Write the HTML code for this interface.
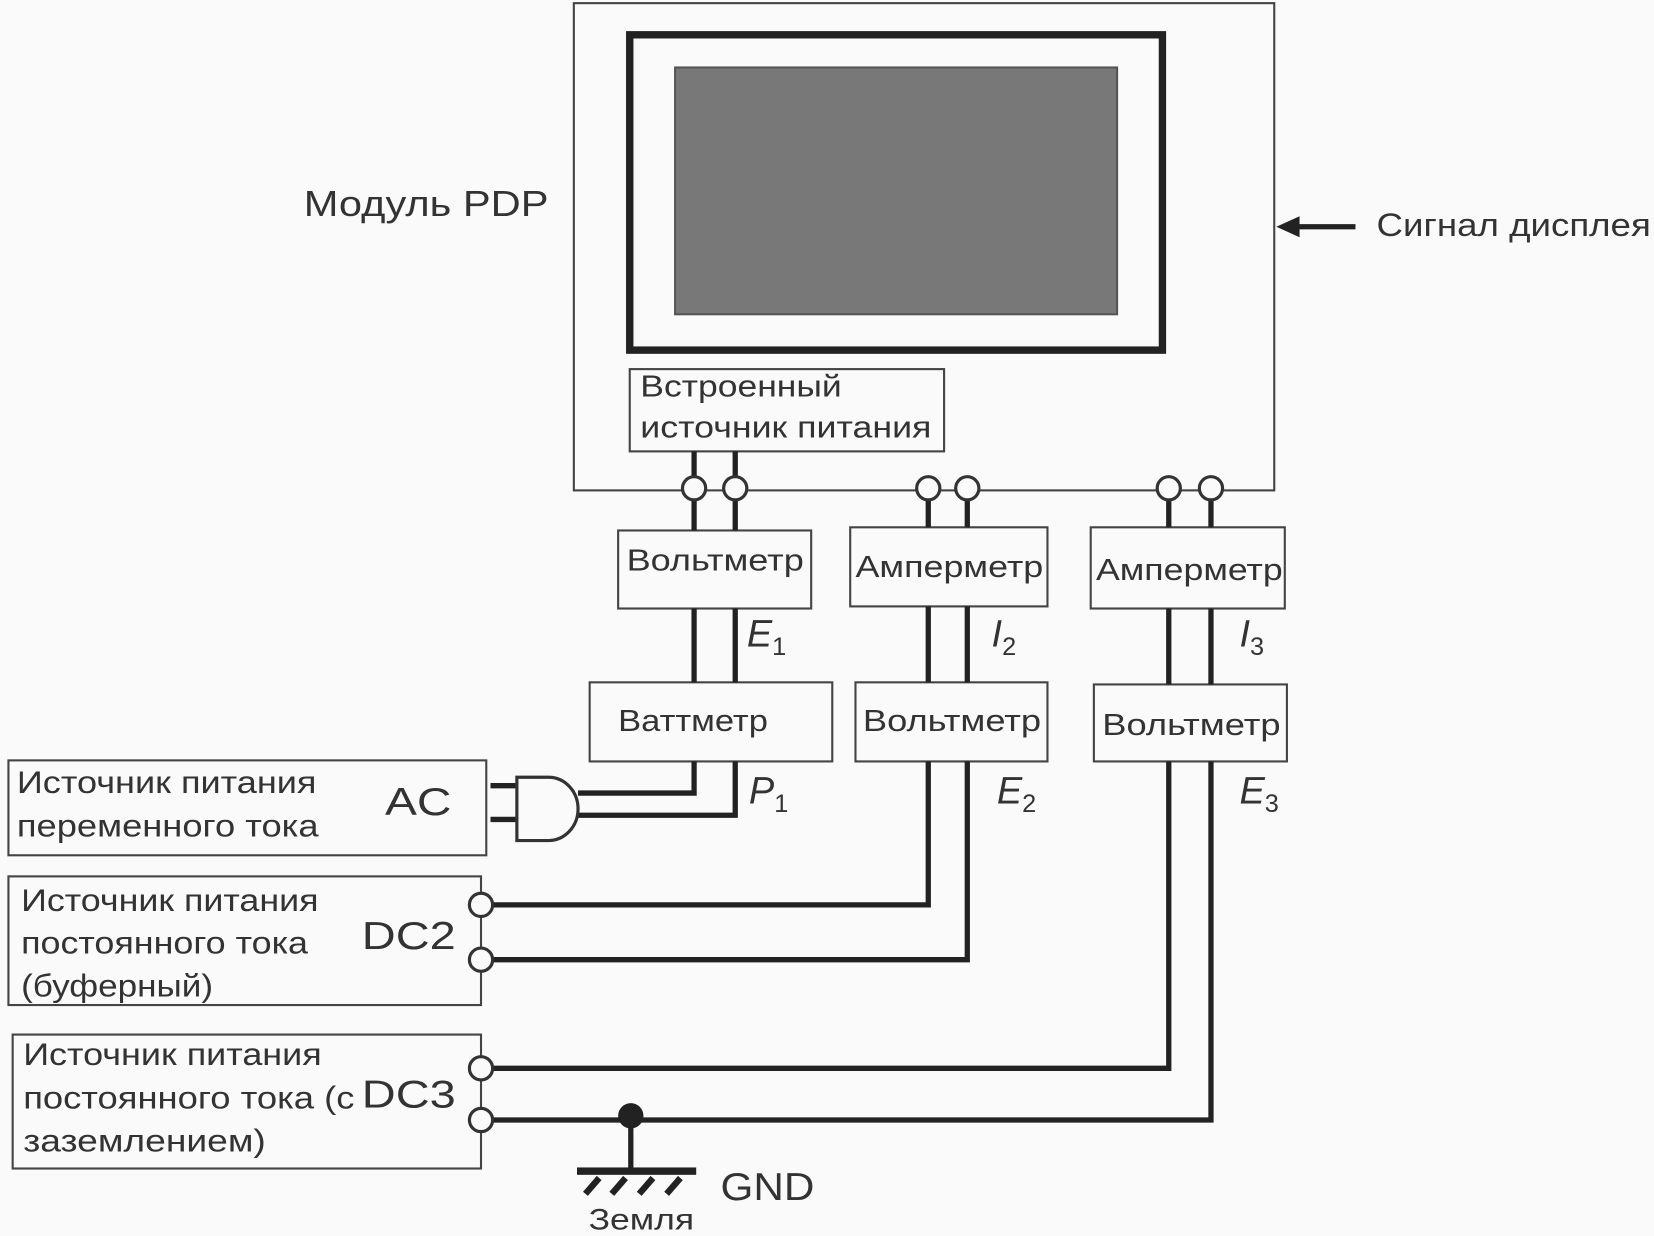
<!DOCTYPE html>
<html><head><meta charset="utf-8"><style>html,body{margin:0;padding:0;background:#fafafa}svg{display:block}</style></head><body>
<svg width="1654" height="1236" viewBox="0 0 1568 1172" preserveAspectRatio="none" xmlns="http://www.w3.org/2000/svg" font-family="Liberation Sans, sans-serif" fill="#333">
<rect x="0" y="0" width="1568" height="1172" fill="#fafafa"/>
<g fill="none" stroke="#444" stroke-width="2">
<rect x="544" y="3" width="664" height="462"/>
<rect x="597" y="350" width="298" height="78" fill="#fafafa"/>
<rect x="586" y="503" width="183" height="74"/>
<rect x="806" y="500" width="187" height="75"/>
<rect x="1034" y="500" width="184" height="77"/>
<rect x="559" y="647" width="230" height="75"/>
<rect x="811" y="647" width="182" height="75"/>
<rect x="1037" y="649" width="183" height="73"/>
<rect x="8" y="721" width="453" height="90"/>
<rect x="8" y="831" width="448" height="122"/>
<rect x="12" y="981" width="444" height="127"/>
</g>
<rect x="597" y="33" width="505" height="299" fill="none" stroke="#222" stroke-width="7"/>
<rect x="640" y="64" width="419" height="234" fill="#787878" stroke="#555" stroke-width="2"/>
<g stroke="#222" stroke-width="5" fill="none">
<path d="M1285 215 H1225"/>
<path d="M658 428 V452 M697 428 V452"/>
<path d="M658 475 V503 M697 475 V503 M880 475 V500 M917 475 V500 M1108 475 V500 M1148 475 V500"/>
<path d="M658 577 V647 M697 577 V647 M880 575 V647 M917 575 V647 M1108 577 V649 M1148 577 V649"/>
<path d="M548 752 H658 V722 M548 773 H697 V722"/>
<path d="M467 858 H880 V722 M467 910 H917 V722"/>
<path d="M467 1013 H1108 V722 M467 1062 H1148 V722"/>
<path d="M598 1062 V1110"/>
<path d="M465 745 H490 M465 777 H490"/>
</g>
<polygon points="1210,215 1232,205 1232,225" fill="#222"/>
<path d="M490 737 H520 A28 30 0 0 1 520 797 H490 Z" fill="#fafafa" stroke="#333" stroke-width="3"/>
<g fill="#fafafa" stroke="#333" stroke-width="3">
<circle cx="658" cy="463" r="11"/><circle cx="697" cy="463" r="11"/>
<circle cx="880" cy="463" r="11"/><circle cx="917" cy="463" r="11"/>
<circle cx="1108" cy="463" r="11"/><circle cx="1148" cy="463" r="11"/>
<circle cx="456" cy="858" r="11"/><circle cx="456" cy="910" r="11"/>
<circle cx="456" cy="1013" r="11"/><circle cx="456" cy="1062" r="11"/>
</g>
<circle cx="598" cy="1058" r="12" fill="#222"/>
<rect x="547" y="1107" width="113" height="7" fill="#222"/>
<g stroke="#222" stroke-width="6"><path d="M555 1132 L568 1117 M580 1132 L593 1117 M606 1132 L619 1117 M632 1132 L645 1117"/></g>
<g lengthAdjust="spacingAndGlyphs">
<text x="288" y="205" font-size="34" textLength="232" lengthAdjust="spacingAndGlyphs">Модуль PDP</text>
<text x="1305" y="224" font-size="31" textLength="260" lengthAdjust="spacingAndGlyphs">Сигнал дисплея</text>
<text x="607" y="376" font-size="29" textLength="191" lengthAdjust="spacingAndGlyphs">Встроенный</text>
<text x="607" y="415" font-size="29" textLength="276" lengthAdjust="spacingAndGlyphs">источник питания</text>
<text x="594" y="541" font-size="29" textLength="168" lengthAdjust="spacingAndGlyphs">Вольтметр</text>
<text x="811" y="547" font-size="29" textLength="178" lengthAdjust="spacingAndGlyphs">Амперметр</text>
<text x="1039" y="550" font-size="29" textLength="177" lengthAdjust="spacingAndGlyphs">Амперметр</text>
<text x="586" y="693" font-size="29" textLength="142" lengthAdjust="spacingAndGlyphs">Ваттметр</text>
<text x="818" y="693" font-size="29" textLength="169" lengthAdjust="spacingAndGlyphs">Вольтметр</text>
<text x="1045" y="697" font-size="29" textLength="169" lengthAdjust="spacingAndGlyphs">Вольтметр</text>
<text x="16" y="752" font-size="30" textLength="284" lengthAdjust="spacingAndGlyphs">Источник питания</text>
<text x="16" y="793" font-size="30" textLength="286" lengthAdjust="spacingAndGlyphs">переменного тока</text>
<text x="20" y="864" font-size="30" textLength="282" lengthAdjust="spacingAndGlyphs">Источник питания</text>
<text x="20" y="904" font-size="30" textLength="272" lengthAdjust="spacingAndGlyphs">постоянного тока</text>
<text x="20" y="945" font-size="30" textLength="182" lengthAdjust="spacingAndGlyphs">(буферный)</text>
<text x="22" y="1010" font-size="30" textLength="283" lengthAdjust="spacingAndGlyphs">Источник питания</text>
<text x="22" y="1051" font-size="30" textLength="314" lengthAdjust="spacingAndGlyphs">постоянного тока (с</text>
<text x="22" y="1092" font-size="30" textLength="230" lengthAdjust="spacingAndGlyphs">заземлением)</text>
<text x="558" y="1166" font-size="28" textLength="100" lengthAdjust="spacingAndGlyphs">Земля</text>
<text x="365" y="773" font-size="37" textLength="63" lengthAdjust="spacingAndGlyphs">AC</text>
<text x="343" y="900" font-size="37" textLength="89" lengthAdjust="spacingAndGlyphs">DC2</text>
<text x="343" y="1050" font-size="37" textLength="89" lengthAdjust="spacingAndGlyphs">DC3</text>
<text x="683" y="1138" font-size="37" textLength="89" lengthAdjust="spacingAndGlyphs">GND</text>
</g>
<g font-size="36" font-style="italic">
<text x="708" y="613">E<tspan font-size="24" dy="8" font-style="normal">1</tspan></text>
<text x="940" y="613">I<tspan font-size="24" dy="8" font-style="normal">2</tspan></text>
<text x="1175" y="613">I<tspan font-size="24" dy="8" font-style="normal">3</tspan></text>
<text x="710" y="762">P<tspan font-size="24" dy="8" font-style="normal">1</tspan></text>
<text x="945" y="762">E<tspan font-size="24" dy="8" font-style="normal">2</tspan></text>
<text x="1175" y="762">E<tspan font-size="24" dy="8" font-style="normal">3</tspan></text>
</g>
</svg>
</body></html>
